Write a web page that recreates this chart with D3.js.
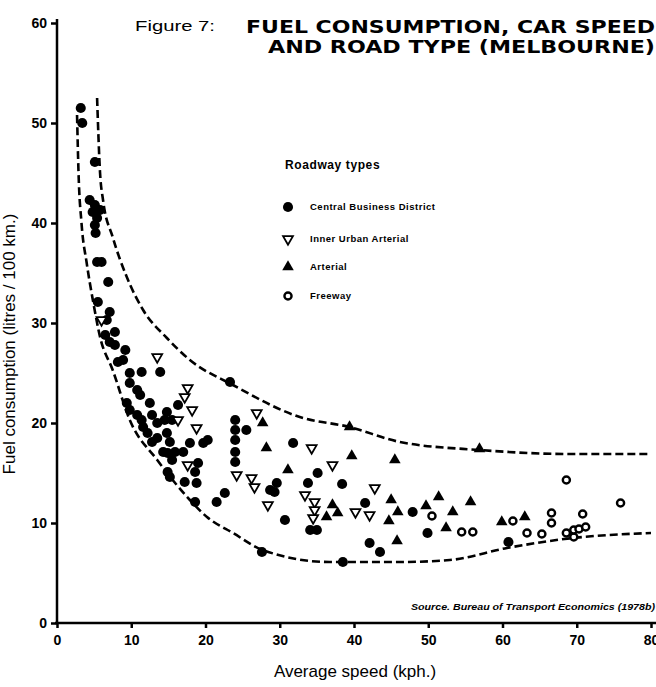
<!DOCTYPE html>
<html>
<head>
<meta charset="utf-8">
<script src="https://cdn.jsdelivr.net/npm/d3@7"></script>
<style>
  body { margin: 0; background: #fff; }
  svg { display: block; }
  text { fill: #000; }
  .axis path, .axis line { stroke: #000; stroke-width: 2.5; }
  .axis text { font-family: "Liberation Sans", Arial, sans-serif; font-weight: bold; font-size: 14px; }
</style>
</head>
<body>
<div id="chart"></div>
<script>
// Values: [speed (kph), fuel (litres / 100 km)]
const cbdPoints = [
  [3.2, 51.5], [3.4, 50.0], [5.1, 46.1], [4.4, 42.3], [5.1, 41.8], [4.8, 41.1], [5.8, 41.3],
  [5.4, 40.5], [5.1, 39.8], [5.2, 39.0], [5.4, 36.1], [6.0, 36.1], [6.9, 34.1], [5.5, 32.1],
  [7.1, 31.1], [6.7, 30.3], [7.8, 29.1], [6.5, 28.8], [7.1, 28.1], [7.8, 27.8], [9.2, 27.3],
  [8.2, 26.1], [8.9, 26.3], [9.8, 25.0], [11.4, 25.1], [13.9, 25.1], [9.8, 24.0], [10.8, 23.3],
  [11.2, 22.8], [9.4, 22.0], [12.5, 22.0], [9.8, 21.3], [14.8, 21.1], [16.3, 21.8], [10.8, 20.8],
  [11.4, 20.3], [12.8, 20.8], [14.5, 20.3], [15.5, 20.3], [11.6, 19.6], [13.5, 20.0], [12.2, 19.0],
  [14.8, 19.0], [12.8, 18.1], [13.5, 18.5], [15.2, 18.1], [17.9, 18.0], [19.7, 18.0], [20.3, 18.3],
  [14.3, 17.1], [14.9, 17.0], [15.9, 17.1], [17.0, 17.1], [15.5, 16.3], [19.0, 16.0], [18.6, 15.1],
  [14.9, 15.1], [15.2, 14.6], [17.2, 14.1], [18.8, 14.0], [18.6, 12.1], [21.5, 12.1], [22.6, 13.0],
  [24.0, 20.3], [24.0, 19.3], [24.0, 18.3], [24.0, 17.1], [24.0, 16.1], [25.5, 19.3], [23.3, 24.1],
  [31.8, 18.0], [35.1, 15.0], [33.8, 14.0], [28.7, 13.3], [29.6, 14.0], [29.3, 13.1], [30.7, 10.3],
  [34.1, 9.3], [35.0, 9.3], [27.6, 7.1], [38.4, 13.9], [41.5, 12.0], [47.9, 11.1], [49.9, 9.0],
  [42.1, 8.0], [43.5, 7.1], [38.5, 6.1], [60.8, 8.1]
];
const innerUrbanPoints = [
  [6.0, 30.3], [13.5, 26.6], [17.6, 23.5], [17.2, 22.6], [18.2, 21.3], [16.3, 20.3], [18.8, 19.5],
  [17.6, 15.8], [26.9, 21.0], [34.3, 17.5], [24.2, 14.8], [26.2, 14.5], [26.6, 13.6], [28.4, 11.8],
  [33.4, 12.8], [34.7, 12.1], [34.7, 11.3], [34.5, 10.5], [37.1, 15.8], [42.8, 13.5], [40.2, 11.1],
  [42.1, 10.8]
];
const arterialPoints = [
  [27.7, 20.0], [28.2, 17.5], [31.1, 15.3], [36.3, 10.6], [39.4, 19.6], [39.7, 16.7], [45.5, 16.3],
  [37.1, 11.8], [37.8, 11.0], [45.0, 12.3], [45.9, 11.1], [44.7, 10.2], [49.7, 11.7], [51.4, 12.6],
  [53.3, 11.1], [55.7, 12.1], [52.4, 9.5], [45.8, 8.2], [59.9, 10.1], [63.0, 10.6], [56.9, 17.4]
];
const freewayPoints = [
  [50.5, 10.7], [54.5, 9.1], [56.0, 9.1], [61.4, 10.2], [63.3, 9.0], [65.3, 8.9], [66.6, 11.0],
  [66.6, 10.0], [68.6, 14.3], [68.6, 9.0], [69.6, 8.6], [69.6, 9.3], [70.3, 9.4], [71.2, 9.6],
  [70.8, 10.9], [75.9, 12.0]
];

// Dashed envelope curves
const upperBound = [
  [5.4, 52.5], [5.8, 45], [6.2, 42.3], [7.5, 38.6], [9.4, 34.6], [11.6, 31.3], [14.8, 28.5],
  [17.9, 26.3], [23.7, 23.8], [32.7, 20.6], [39.4, 19.6], [46.2, 18.1], [56.9, 17.3], [69, 16.9], [80, 16.9]
];
const lowerBound = [
  [2.7, 50.8], [2.9, 45], [3.3, 40], [4.0, 36], [4.9, 32], [5.8, 28.6], [7.5, 25.3], [9.8, 20.3],
  [13.5, 16.3], [17.9, 12.3], [20.2, 10.6], [23.7, 9.0], [27.7, 7.3], [36.7, 6.1], [46.2, 6.1],
  [52.9, 6.3], [60.6, 7.5], [69.5, 8.5], [80, 9.0]
];

const xTicks = [0, 10, 20, 30, 40, 50, 60, 70, 80];
const yTicks = [0, 10, 20, 30, 40, 50, 60];
const legendLabels = ["Central Business District", "Inner Urban Arterial", "Arterial", "Freeway"];

const width = 656;
const height = 687;

const svg = d3.select("#chart")
  .append("svg")
    .attr("width", width)
    .attr("height", height);

/****************************/
/*    Declare the scales    */
/****************************/
const xScale = d3.scaleLinear()
  .domain([0, 80])
  .range([57, 651]);

const yScale = d3.scaleLinear()
  .domain([0, 60])
  .range([623, 23]);

/***************************/
/*     Append the axes     */
/***************************/
const bottomAxis = d3.axisBottom(xScale)
  .tickValues(xTicks)
  .tickSize(5)
  .tickSizeOuter(0)
  .tickPadding(7);
const xAxis = svg
  .append("g")
    .attr("class", "axis")
    .attr("transform", `translate(0, ${yScale(0)})`)
    .call(bottomAxis);
xAxis.select(".domain")
  .attr("d", `M${xScale(0) - 2},0H${width}`);

const leftAxis = d3.axisLeft(yScale)
  .tickValues(yTicks)
  .tickSize(6)
  .tickSizeOuter(0)
  .tickPadding(4);
const yAxis = svg
  .append("g")
    .attr("class", "axis")
    .attr("transform", `translate(${xScale(0)}, 0)`)
    .call(leftAxis);
yAxis.select(".domain")
  .attr("d", `M0,${yScale(0)}V${yScale(60) - 4}`);

// Axis titles
svg.append("text")
  .attr("x", 355)
  .attr("y", 677)
  .attr("text-anchor", "middle")
  .style("font-family", "Liberation Sans, Arial, sans-serif")
  .style("font-size", "17px")
  .text("Average speed (kph.)");

svg.append("text")
  .attr("transform", `translate(15, ${yScale(27.9)}) rotate(-90)`)
  .attr("text-anchor", "middle")
  .style("font-family", "Liberation Sans, Arial, sans-serif")
  .style("font-size", "17px")
  .text("Fuel consumption (litres / 100 km.)");

/*****************************/
/*     Envelope curves       */
/*****************************/
const curveGenerator = d3.line()
  .x(d => xScale(d[0]))
  .y(d => yScale(d[1]))
  .curve(d3.curveMonotoneX);

[upperBound, lowerBound].forEach(bound => {
  svg
    .append("path")
      .attr("d", curveGenerator(bound))
      .attr("fill", "none")
      .attr("stroke", "#000")
      .attr("stroke-width", 2.6)
      .attr("stroke-dasharray", "8,4");
});

/*****************************/
/*       Data points         */
/*****************************/
const circleSymbol = d3.symbol().type(d3.symbolCircle).size(80);
const triangleSymbol = d3.symbol().type(d3.symbolTriangle).size(58);
const openTriangleSymbol = d3.symbol().type(d3.symbolTriangle).size(42);

const seriesInfo = [
  { id: "cbd", data: cbdPoints, path: circleSymbol(), rotate: 0, fill: "#000", stroke: "none", sw: 0 },
  { id: "inner", data: innerUrbanPoints, path: openTriangleSymbol(), rotate: 180, fill: "#fff", stroke: "#000", sw: 1.8 },
  { id: "arterial", data: arterialPoints, path: triangleSymbol(), rotate: 0, fill: "#000", stroke: "none", sw: 0 },
  { id: "freeway", data: freewayPoints, path: d3.symbol().type(d3.symbolCircle).size(40)(), rotate: 0, fill: "#fff", stroke: "#000", sw: 2.4 }
];

seriesInfo.forEach(series => {
  svg
    .selectAll(`.data-point-${series.id}`)
    .data(series.data)
    .join("path")
      .attr("class", `data-point-${series.id}`)
      .attr("d", series.path)
      .attr("transform", d => `translate(${xScale(d[0])}, ${yScale(d[1])}) rotate(${series.rotate})`)
      .attr("fill", series.fill)
      .attr("stroke", series.stroke)
      .attr("stroke-width", series.sw);
});

/*****************************/
/*          Legend           */
/*****************************/
svg.append("text")
  .attr("x", 285)
  .attr("y", 169)
  .style("font-family", "Liberation Sans, Arial, sans-serif")
  .style("font-weight", "bold")
  .style("font-size", "12px")
  .style("letter-spacing", "0.6px")
  .text("Roadway types");

const legendY = [207, 239, 267, 296];
seriesInfo.forEach((series, i) => {
  svg.append("path")
    .attr("d", series.path)
    .attr("transform", `translate(288, ${legendY[i]}) rotate(${series.rotate})`)
    .attr("fill", series.fill)
    .attr("stroke", series.stroke)
    .attr("stroke-width", series.sw);
  svg.append("text")
    .attr("x", 310)
    .attr("y", legendY[i] + 3)
    .style("font-family", "Liberation Sans, Arial, sans-serif")
    .style("font-weight", "bold")
    .style("font-size", "9.5px")
    .style("letter-spacing", "0.5px")
    .text(legendLabels[i]);
});

/*****************************/
/*      Title and source     */
/*****************************/
svg.append("text")
  .attr("x", 135)
  .attr("y", 31)
  .attr("textLength", 80)
  .attr("lengthAdjust", "spacingAndGlyphs")
  .style("font-family", "Liberation Sans, Arial, sans-serif")
  .style("font-size", "15px")
  .text("Figure 7:");

svg.append("text")
  .attr("x", 246)
  .attr("y", 33)
  .attr("textLength", 409)
  .attr("lengthAdjust", "spacingAndGlyphs")
  .style("font-family", "DejaVu Sans, sans-serif")
  .style("font-weight", "bold")
  .style("font-size", "17px")
  .text("FUEL CONSUMPTION, CAR SPEED");

svg.append("text")
  .attr("x", 268)
  .attr("y", 53)
  .attr("textLength", 387)
  .attr("lengthAdjust", "spacingAndGlyphs")
  .style("font-family", "DejaVu Sans, sans-serif")
  .style("font-weight", "bold")
  .style("font-size", "17px")
  .text("AND ROAD TYPE (MELBOURNE)");

svg.append("text")
  .attr("x", 411)
  .attr("y", 610)
  .attr("textLength", 244)
  .attr("lengthAdjust", "spacingAndGlyphs")
  .style("font-family", "Liberation Sans, Arial, sans-serif")
  .style("font-weight", "bold")
  .style("font-style", "italic")
  .style("font-size", "8.5px")
  .text("Source.  Bureau of Transport Economics (1978b)");
</script>
</body>
</html>
